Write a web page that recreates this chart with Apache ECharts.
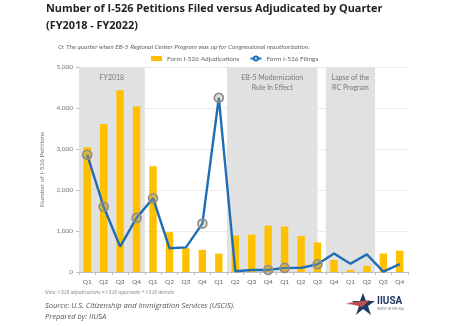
<!DOCTYPE html>
<html>
<head>
<meta charset="utf-8">
<script src="https://cdn.jsdelivr.net/npm/echarts@6/dist/echarts.min.js"></script>
<style>
  html, body { margin: 0; padding: 0; background: #fff; }
  #chart { width: 474px; height: 326px; }
</style>
</head>
<body>
<div id="chart"></div>
<script>
// Quarter labels, FY2018 Q1 through FY2022 Q4
var quarters = ['Q1','Q2','Q3','Q4','Q1','Q2','Q3','Q4','Q1','Q2','Q3','Q4',
                'Q1','Q2','Q3','Q4','Q1','Q2','Q3','Q4'];
var quarterKeys = quarters.map(function (q, i) { return 'FY' + (2018 + Math.floor(i / 4)) + ' ' + q; });

// Form I-526 adjudications per quarter
var adjudications = [3040, 3610, 4430, 4040, 2580, 970, 580, 540, 450, 890,
                     910, 1130, 1110, 880, 720, 290, 50, 150, 450, 520];

// Form I-526 filings per quarter
var filings = [2860, 1590, 620, 1320, 1800, 580, 600, 1180, 4250, 20,
               50, 50, 100, 100, 190, 450, 200, 430, 10, 190];

// Quarters when the Regional Center Program was up for reauthorization
var reauthQuarters = [0, 1, 3, 4, 7, 8, 11, 12, 14];

// Shaded periods, in quarter units along the time axis
var periodNames = ['FY2018', 'EB-5 Modernization\nRule In Effect', 'Lapse of the\nRC Program'];
var periodStart = [0, 9, 15];
var periodEnd = [4, 14.5, 18];

var yTicks = [0, 1000, 2000, 3000, 4000, 5000];

var chart = echarts.init(document.getElementById('chart'), null, { renderer: 'canvas' });

var filingData = filings.map(function (v, i) {
  if (reauthQuarters.indexOf(i) >= 0) {
    return {
      value: v,
      symbol: 'circle',
      symbolSize: 9,
      itemStyle: { color: 'rgba(160,160,140,0.35)', borderColor: '#8c8c8c', borderWidth: 1.6 }
    };
  }
  return { value: v, symbol: 'none' };
});

var areas = periodNames.map(function (name, i) {
  return [{ xAxis: periodStart[i], name: name }, { xAxis: periodEnd[i] }];
});

var option = {
  animation: false,
  textStyle: { fontFamily: 'Lato, "Open Sans", sans-serif' },
  title: [
    {
      text: 'Number of I-526 Petitions Filed versus Adjudicated by Quarter\n(FY2018 - FY2022)',
      left: 46, top: 0, padding: 0,
      textStyle: { fontFamily: '"Open Sans", sans-serif', fontSize: 10.9, fontWeight: 'bold', color: '#222', lineHeight: 17 }
    },
    {
      text: 'O: The quarter when EB-5 Regional Center Program was up for Congressional reauthorization.',
      left: 53, top: 38,
      textStyle: { fontSize: 6.5, fontStyle: 'italic', fontWeight: 'normal', color: '#666' }
    }
  ],
  legend: {
    top: 50, left: 146,
    itemWidth: 11, itemHeight: 5, itemGap: 10,
    textStyle: { fontSize: 6.5, color: '#666' },
    data: [
      { name: 'Form I-526 Adjudications', icon: 'rect' },
      { name: 'Form I-526 Filings' }
    ]
  },
  grid: { left: 79, right: 66, top: 67, bottom: 54 },
  xAxis: [
    {
      type: 'category',
      data: quarterKeys,
      axisLine: { lineStyle: { color: '#bfbfbf' } },
      axisTick: { show: true, lineStyle: { color: '#bfbfbf' }, length: 3 },
      axisLabel: {
        fontSize: 6.5, color: '#666', margin: 6,
        formatter: function (v) { return v.split(' ')[1]; }
      }
    },
    { type: 'value', min: 0, max: 20, show: false }
  ],
  yAxis: {
    type: 'value', min: 0, max: 5000, interval: 1000,
    name: 'Number of I-526 Petitions',
    nameLocation: 'middle', nameGap: 26,
    nameTextStyle: { fontSize: 6.5, color: '#777' },
    axisLine: { show: true, lineStyle: { color: '#bfbfbf' } },
    axisTick: { show: true, lineStyle: { color: '#bfbfbf' }, length: 3 },
    axisLabel: {
      fontSize: 6.5, color: '#777', margin: 6,
      formatter: function (v) { return yTicks.indexOf(v) >= 0 ? v.toLocaleString('en-US') : ''; }
    },
    splitLine: { lineStyle: { color: '#ececec', width: 1 } }
  },
  series: [
    {
      name: 'Shading',
      type: 'line',
      xAxisIndex: 1,
      data: [],
      silent: true,
      markArea: {
        silent: true,
        itemStyle: { color: '#e1e1e1' },
        label: {
          show: true, position: 'insideTop', distance: 6,
          fontSize: 7, color: '#777', lineHeight: 9.5, align: 'center'
        },
        data: areas
      },
      z: 1
    },
    {
      name: 'Form I-526 Adjudications',
      type: 'bar',
      data: adjudications,
      barWidth: '45%',
      itemStyle: { color: '#ffc000' },
      z: 2
    },
    {
      name: 'Form I-526 Filings',
      type: 'line',
      data: filingData,
      color: '#1f6db5',
      lineStyle: { color: '#1f6db5', width: 2.4 },
      itemStyle: { color: '#1f6db5' },
      z: 3
    }
  ],
  graphic: [
    {
      type: 'text', left: 45, top: 290,
      style: { text: 'Note: I-526 adjudications = I-526 approvals + I-526 denials', fontSize: 5, fontStyle: 'italic', fill: '#888', fontFamily: '"Open Sans", sans-serif' }
    },
    {
      type: 'text', left: 45, top: 302,
      style: { text: 'Source: U.S. Citizenship and Immigration Services (USCIS).', fontSize: 7.5, fontStyle: 'italic', fill: '#555', fontFamily: '"Open Sans", sans-serif' }
    },
    {
      type: 'text', left: 45, top: 313,
      style: { text: 'Prepared by: IIUSA', fontSize: 7.5, fontStyle: 'italic', fill: '#555', fontFamily: '"Open Sans", sans-serif' }
    },
    // IIUSA logo: swoosh, star and wordmark
    {
      type: 'polygon',
      shape: { points: [[345, 304], [368, 301], [366, 305]] },
      style: { fill: '#c0504d' }
    },
    {
      type: 'polygon',
      shape: { points: [[363, 293], [366, 301], [375, 301], [368, 306], [371, 315], [363, 309], [356, 315], [359, 306], [352, 301], [360, 301]] },
      style: { fill: '#1f3864' }
    },
    {
      type: 'polygon',
      shape: { points: [[347, 303], [370, 300], [362, 307]] },
      style: { fill: '#c0504d' }
    },
    {
      type: 'text', left: 377, top: 296,
      style: { text: 'IIUSA', fontSize: 10, fontWeight: 'bold', fill: '#1f3864', fontFamily: 'Roboto, sans-serif' }
    },
    {
      type: 'text', left: 377, top: 308,
      style: { text: 'INVEST IN THE USA', fontSize: 3, fill: '#777', fontFamily: 'Roboto, sans-serif' }
    }
  ]
};

chart.setOption(option);
</script>
</body>
</html>
